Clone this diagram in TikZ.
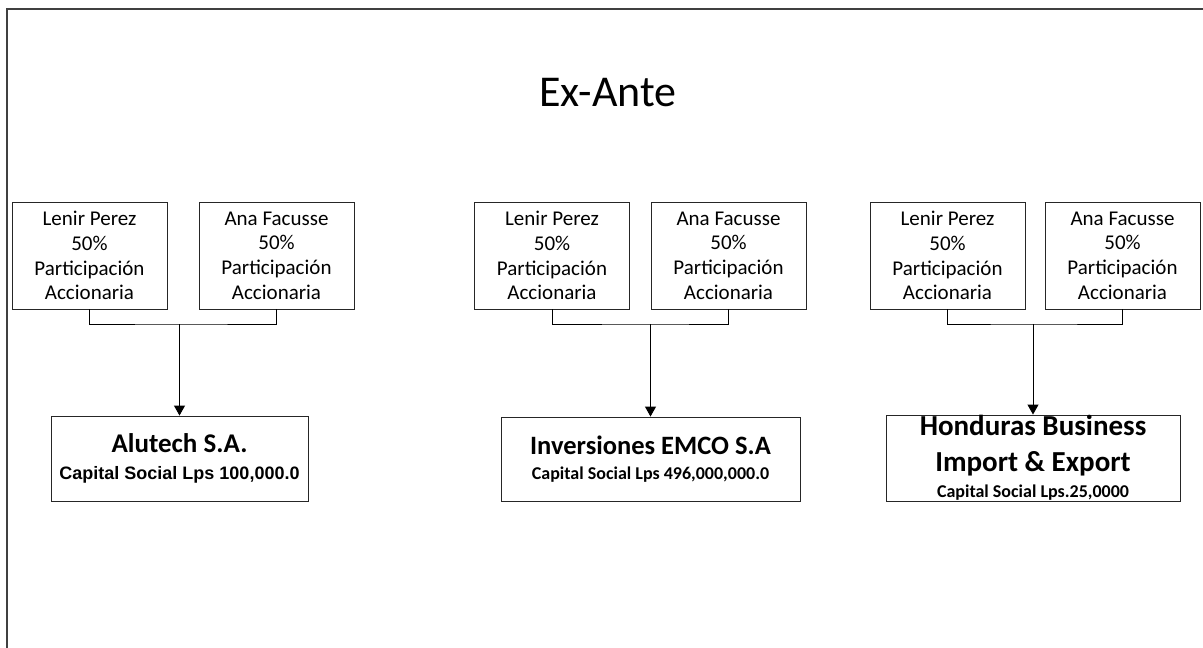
\documentclass[tikz,border=0pt]{standalone}
\usepackage{fontspec}
\setmainfont{Carlito}
\newfontfamily\arialfont{Liberation Sans}
\usetikzlibrary{arrows.meta}
\begin{document}
\begin{tikzpicture}[x=1pt,y=-1pt]
		\tikzstyle{SH}=[draw=black!85,line width=0.9pt,minimum width=155pt,minimum height=107pt,inner sep=0pt,align=center,font=\fontsize{21}{24.7}\selectfont]
		\tikzstyle{CO}=[draw=black!85,line width=0.9pt,inner sep=0pt,align=center]
		\tikzstyle{link}=[draw=black,line width=1pt]
		\tikzstyle{own}=[-{Triangle[width=11pt,length=10pt]},draw=black,line width=1pt]
		\useasboundingbox (0,0) rectangle (1203,648);
		\draw[black!75,line width=1.5pt] (7,648) -- (7,9) -- (1203,9);
		\node (title) at (608,93) {\fontsize{44}{50}\selectfont Ex-Ante};
		\begin{scope}
		\node[SH] (lp1) at (89.5,255.5)  {Lenir Perez\\50\%\\Participación\\Accionaria};
		\node[SH] (af1) at (276.5,255.5) {Ana Facusse\\50\%\\Participación\\Accionaria};
		\node[SH] (lp2) at (552,255.5)   {Lenir Perez\\50\%\\Participación\\Accionaria};
		\node[SH] (af2) at (728.5,255.5) {Ana Facusse\\50\%\\Participación\\Accionaria};
		\node[SH] (lp3) at (947.5,255.5) {Lenir Perez\\50\%\\Participación\\Accionaria};
		\node[SH] (af3) at (1122.5,255.5) {Ana Facusse\\50\%\\Participación\\Accionaria};
		\end{scope}
		
		\begin{scope}
		\node[CO,minimum width=257pt,minimum height=85pt,font=\bfseries\fontsize{18}{27}\selectfont] (alutech) at (179.5,458.5)
		{{\fontsize{27}{33}\selectfont Alutech S.A.}\\{\arialfont\bfseries\fontsize{18}{22}\selectfont Capital Social Lps 100,000.0}};
		\node[CO,minimum width=299pt,minimum height=84pt,font=\bfseries\fontsize{18}{25}\selectfont] (emco) at (650.5,459)
		{{\fontsize{26.5}{32}\selectfont Inversiones EMCO S.A}\\Capital Social Lps 496,000,000.0};
		\node[CO,minimum width=294pt,minimum height=86pt,font=\bfseries\fontsize{18}{36}\selectfont] (hbie) at (1033,458)
		{{\fontsize{29}{35}\selectfont Honduras Business}\\{\fontsize{29}{35}\selectfont Import \& Export}\\[-10pt]Capital Social Lps.25,0000};
		\end{scope}
		
		\coordinate (j1) at (179.5,324);
		\coordinate (j2) at (650.5,324);
		\coordinate (j3) at (1033,324);
		
		\draw[link] (lp1.south) |- (j1) -| (af1.south);
		\draw[link] (lp2.south) |- (j2) -| (af2.south);
		\draw[link] (lp3.south) |- (j3) -| (af3.south);
		\draw[own] (j1) -- (alutech.north);
		\draw[own] (j2) -- (emco.north);
		\draw[own] (j3) -- (hbie.north);
		
\end{tikzpicture}
\end{document}
